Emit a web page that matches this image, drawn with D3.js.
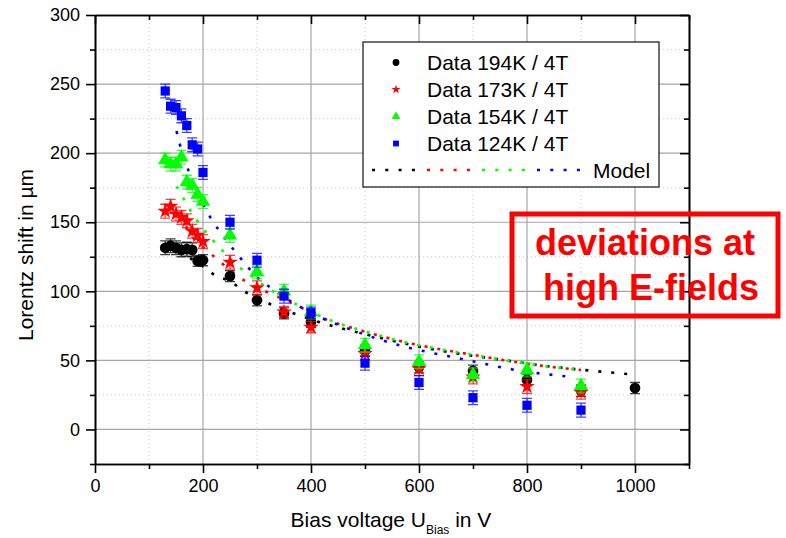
<!DOCTYPE html>
<html lang="en">
<head>
    <meta charset="UTF-8">
    <title>Lorentz shift vs bias voltage</title>
    <script src="https://cdn.jsdelivr.net/npm/d3@7"></script>
    <style>
        body { margin: 0; background: #fff; }
        text { font-family: "Liberation Sans", Arial, sans-serif; }
    </style>
</head>
<body>
    <div id="chart"></div>
    <script>
        // bias voltages of the measurements (V)
        const voltages = [130, 140, 150, 160, 170, 180, 190, 200, 250, 300, 350, 400, 500, 600, 700, 800, 900, 1000]

        const data194 = [131.5, 133, 131.5, 130, 130.5, 130, 122, 122.5, 111, 93.5, 84, 78, 57, 45, 42.5, 36, 28, 30]
        const data173 = [158, 161.5, 156, 153.5, 151, 143.5, 140.5, 136, 121, 102.5, 85, 74, 55, 44, 38, 31, 27]
        const data154 = [195, 192, 192, 197, 179, 176.5, 170, 165, 140.5, 114, 100, 85, 61, 49, 39.5, 43, 31.5]
        const data124 = [245, 234, 233, 227, 220, 206, 203, 186, 150, 122.5, 96.5, 84.5, 48, 34, 23, 17.5, 14]

        const err194 = [5, 5, 5, 5, 5, 5, 4, 4, 4, 4, 4, 4, 4, 4, 4, 4, 4, 4]
        const err173 = [5, 5, 5, 5, 5, 5, 5, 5, 5, 5, 4, 4, 5, 5, 5, 5, 5]
        const err154 = [5, 5, 5, 5, 5, 5, 5, 5, 5, 5, 5, 5, 5, 5, 5, 5, 5]
        const err124 = [5, 5, 5, 5, 5, 5, 5, 5, 5, 5, 5, 4, 5, 5, 5, 5, 5]

        // model curves (voltage, shift)
        const model194V = [176, 200, 225, 252, 274, 300, 323, 372, 421, 500, 565, 639, 688, 761, 833, 907, 990]
        const model194Y = [124, 118, 111, 107, 100.4, 96, 91, 83.5, 77, 69, 63, 57, 54, 50, 46, 43, 40]
        const model173V = [168, 176, 212, 236, 261, 284, 333, 383, 432, 481, 565, 640, 700, 760, 830, 900]
        const model173Y = [147, 142, 128, 120, 112, 106, 97, 88, 79, 73, 64, 58, 54, 50, 46, 43]
        const model154V = [151, 165, 179, 196, 216, 238, 262, 287, 312, 336, 386, 436, 500, 565, 640, 700, 760, 830, 900]
        const model154Y = [176, 166.5, 157, 147.5, 138, 128.6, 119, 112, 104.5, 98.5, 88, 79, 71, 64, 58, 54, 50, 46, 43]
        const model124V = [151, 157, 165, 173.5, 183, 205.5, 221, 238, 255, 276, 299, 324, 372, 421, 469, 568, 617, 667, 716, 765, 836, 885]
        const model124Y = [216, 206.5, 196.5, 187, 178, 159, 149, 140, 131, 121, 110.5, 103, 90.5, 80.5, 73, 60.5, 56, 52, 48, 44, 40, 38]

        const xTicks = [0, 200, 400, 600, 800, 1000]
        const yTicks = [0, 50, 100, 150, 200, 250, 300]

        const w = 786
        const h = 538

        const svg = d3.select("#chart")
                    .append("svg")
                    .attr("width", w)
                    .attr("height", h)

        const xScale = d3.scaleLinear().domain([0, 1100]).range([95, 689])
        const yScale = d3.scaleLinear().domain([-25, 300]).range([464, 15])

        const series = [
            { name: "Data 194K / 4T", y: data194, err: err194, color: "#000000", sym: d3.symbolCircle, size: 90, legSize: 36, mv: model194V, my: model194Y },
            { name: "Data 173K / 4T", y: data173, err: err173, color: "#ff0000", sym: d3.symbolStar, size: 75, legSize: 26, mv: model173V, my: model173Y },
            { name: "Data 154K / 4T", y: data154, err: err154, color: "#00ff00", sym: d3.symbolTriangle, size: 90, legSize: 34, mv: model154V, my: model154Y },
            { name: "Data 124K / 4T", y: data124, err: err124, color: "#0000ff", sym: d3.symbolSquare, size: 85, legSize: 34, mv: model124V, my: model124Y }
        ]

        // grid
        const grid = svg.append("g")
        const minorX = d3.range(100, 1100, 200)
        const minorY = d3.range(25, 300, 50)
        grid.selectAll(".gxm").data(minorX).enter().append("line")
            .attr("x1", d => xScale(d)).attr("x2", d => xScale(d))
            .attr("y1", yScale(-25)).attr("y2", yScale(300))
            .attr("stroke", "#c8c8c8").attr("stroke-dasharray", "1,3")
        grid.selectAll(".gym").data(minorY).enter().append("line")
            .attr("y1", d => yScale(d)).attr("y2", d => yScale(d))
            .attr("x1", xScale(0)).attr("x2", xScale(1100))
            .attr("stroke", "#c8c8c8").attr("stroke-dasharray", "1,3")
        grid.selectAll(".gx").data(xTicks.filter(v => v > 0)).enter().append("line")
            .attr("x1", d => xScale(d)).attr("x2", d => xScale(d))
            .attr("y1", yScale(-25)).attr("y2", yScale(300))
            .attr("stroke", "#a6a6a6").attr("stroke-width", 1.2)
        grid.selectAll(".gy").data(yTicks.filter(v => v < 300)).enter().append("line")
            .attr("y1", d => yScale(d)).attr("y2", d => yScale(d))
            .attr("x1", xScale(0)).attr("x2", xScale(1100))
            .attr("stroke", "#a6a6a6").attr("stroke-width", 1.2)

        // model curves
        const line = d3.line()
                    .x(d => xScale(d[0]))
                    .y(d => yScale(d[1]))
                    .curve(d3.curveMonotoneX)
        series.forEach(s => {
            svg.append("path")
                .datum(s.mv.map((v, i) => [v, s.my[i]]))
                .attr("d", line)
                .attr("fill", "none")
                .attr("stroke", s.color)
                .attr("stroke-width", 2.6)
                .attr("stroke-dasharray", "3,10")
        })

        // error bars and markers
        series.forEach(s => {
            const pts = s.y.map((v, i) => ({ x: voltages[i], y: v, e: s.err[i] }))
            const g = svg.append("g")
            g.selectAll(".eb").data(pts).enter().append("path")
                .attr("d", d => {
                    const x = xScale(d.x), y1 = yScale(d.y + d.e), y2 = yScale(d.y - d.e)
                    return `M${x},${y1}V${y2}M${x - 5},${y1}H${x + 5}M${x - 5},${y2}H${x + 5}`
                })
                .attr("stroke", s.color)
                .attr("stroke-opacity", 0.75)
                .attr("stroke-width", 1.3)
                .attr("fill", "none")
            g.selectAll(".mk").data(pts).enter().append("path")
                .attr("transform", d => `translate(${xScale(d.x)},${yScale(d.y)})`)
                .attr("d", d3.symbol().type(s.sym).size(s.size))
                .attr("fill", s.color)
        })

        // axes
        const axes = svg.append("g").attr("class", "axes")
        axes.append("g")
            .attr("transform", `translate(0, ${yScale(-25)})`)
            .call(d3.axisBottom(xScale).tickValues(xTicks).tickSize(9).tickSizeOuter(0).tickPadding(6).tickFormat(d3.format("d")))
        axes.append("g")
            .attr("transform", `translate(0, ${yScale(-25)})`)
            .call(d3.axisBottom(xScale).tickValues(d3.range(100, 1200, 200)).tickSize(5).tickSizeOuter(0).tickFormat(""))
        axes.append("g")
            .attr("transform", `translate(${xScale(0)}, 0)`)
            .call(d3.axisLeft(yScale).tickValues(yTicks).tickSize(9).tickSizeOuter(0).tickPadding(6))
        axes.append("g")
            .attr("transform", `translate(${xScale(0)}, 0)`)
            .call(d3.axisLeft(yScale).tickValues(d3.range(-25, 300, 50)).tickSize(5).tickSizeOuter(0).tickFormat(""))
        axes.append("g")
            .attr("transform", `translate(0, ${yScale(300)})`)
            .call(d3.axisTop(xScale).tickValues(xTicks).tickSize(-9).tickSizeOuter(0).tickFormat(""))
        axes.append("g")
            .attr("transform", `translate(0, ${yScale(300)})`)
            .call(d3.axisTop(xScale).tickValues(d3.range(100, 1200, 200)).tickSize(-5).tickSizeOuter(0).tickFormat(""))
        axes.append("g")
            .attr("transform", `translate(${xScale(1100)}, 0)`)
            .call(d3.axisRight(yScale).tickValues(yTicks).tickSize(-9).tickSizeOuter(0).tickFormat(""))
        axes.append("g")
            .attr("transform", `translate(${xScale(1100)}, 0)`)
            .call(d3.axisRight(yScale).tickValues(d3.range(-25, 300, 50)).tickSize(-5).tickSizeOuter(0).tickFormat(""))
        axes.selectAll(".domain").attr("stroke", "#000").attr("stroke-width", 1.6)
        axes.selectAll(".tick line").attr("stroke", "#000").attr("stroke-width", 1.6)
        axes.selectAll(".tick text")
            .style("font-family", "'Liberation Sans', Arial, sans-serif")
            .style("font-size", "18px")
            .attr("fill", "#000")

        // axis titles
        const xt = svg.append("text")
            .attr("x", 391)
            .attr("y", 527)
            .attr("text-anchor", "middle")
            .style("font-size", "21px")
        xt.append("tspan").text("Bias voltage U")
        xt.append("tspan").attr("dy", 7).style("font-size", "12px").text("Bias")
        xt.append("tspan").attr("dy", -7).text(" in V")

        svg.append("text")
            .attr("transform", "translate(33, 255) rotate(-90)")
            .attr("text-anchor", "middle")
            .style("font-size", "21px")
            .text("Lorentz shift in \u00b5m")

        // legend
        const legend = svg.append("g")
        legend.append("rect")
            .attr("x", 363).attr("y", 42).attr("width", 296).attr("height", 145)
            .attr("fill", "#fff").attr("stroke", "#222").attr("stroke-width", 1.3)
        series.forEach((s, i) => {
            const yy = 62.5 + i * 27
            legend.append("path")
                .attr("transform", `translate(396, ${yy})`)
                .attr("d", d3.symbol().type(s.sym).size(s.legSize))
                .attr("fill", s.color)
            legend.append("text")
                .attr("x", 427).attr("y", yy + 7.5)
                .style("font-size", "21px")
                .text(s.name)
            legend.append("line")
                .attr("x1", 372 + i * 55).attr("x2", 417 + i * 55)
                .attr("y1", 170).attr("y2", 170)
                .attr("stroke", s.color).attr("stroke-width", 2.6)
                .attr("stroke-dasharray", "3,10.3")
        })
        legend.append("text")
            .attr("x", 593).attr("y", 177.5)
            .style("font-size", "21px")
            .text("Model")

        // annotation
        svg.append("rect")
            .attr("x", 512).attr("y", 214).attr("width", 266).attr("height", 102)
            .attr("fill", "none").attr("stroke", "#ff0000").attr("stroke-width", 5)
        svg.append("text")
            .attr("x", 645).attr("y", 255)
            .attr("text-anchor", "middle")
            .style("font-size", "36px").style("font-weight", "bold")
            .attr("fill", "#ff0000")
            .text("deviations at")
        svg.append("text")
            .attr("x", 651).attr("y", 300)
            .attr("text-anchor", "middle")
            .style("font-size", "36px").style("font-weight", "bold")
            .attr("fill", "#ff0000")
            .text("high E-fields")
    </script>
</body>
</html>
